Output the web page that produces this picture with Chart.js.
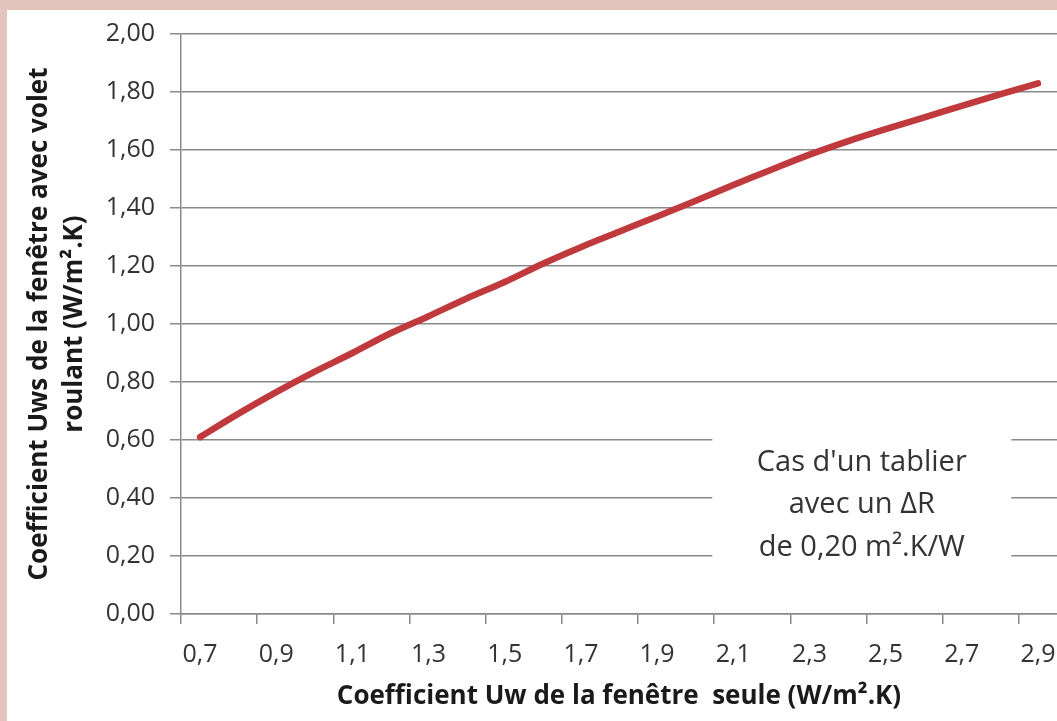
<!DOCTYPE html>
<html>
<head>
<meta charset="utf-8">
<script src="https://cdn.jsdelivr.net/npm/chart.js@4/dist/chart.umd.min.js"></script>
<style>
  html, body { margin: 0; padding: 0; background: #e2c5bd; }
  #cadre { position: absolute; left: 7px; top: 10px; width: 1050px; height: 711px; background: #ffffff; }
</style>
</head>
<body>
<div id="cadre"><canvas id="graphe"></canvas></div>
<script>
// Uw de la fenêtre seule (catégories) et Uws avec volet roulant
const categories = ['0,7', '0,8', '0,9', '1,0', '1,1', '1,2', '1,3', '1,4', '1,5', '1,6', '1,7', '1,8',
                    '1,9', '2,0', '2,1', '2,2', '2,3', '2,4', '2,5', '2,6', '2,7', '2,8', '2,9'];
const uwsValues = [0.61, 0.69, 0.765, 0.835, 0.90, 0.968, 1.027, 1.088, 1.145, 1.208, 1.265, 1.318,
                   1.371, 1.424, 1.479, 1.532, 1.584, 1.630, 1.672, 1.712, 1.752, 1.792, 1.83];
const yMin = 0;
const yMax = 2.0;
const yStep = 0.2;
const noteLines = ["Cas d'un tablier", "avec un \u0394R", "de 0,20 m\u00B2.K/W"];
const noteLineValues = [0.52, 0.376, 0.228];

const titreX = 'Coefficient Uw de la fenêtre  seule (W/m\u00B2.K)';
const titreY = ['Coefficient Uws de la fenêtre avec volet', 'roulant (W/m\u00B2.K)'];

const police = "'Open Sans', 'DejaVu Sans', sans-serif";
const gris = '#8a8a8a';

// Cadre blanc avec le texte de l'encadré
const encadre = {
  id: 'encadre',
  beforeDatasetsDraw(chart) {
    const ctx = chart.ctx;
    const x = chart.scales.x;
    const y = chart.scales.y;
    const gauche = x.getPixelForValue(13.45);
    const droite = x.getPixelForValue(21.3);
    const haut = y.getPixelForValue(0.68);
    const bas = y.getPixelForValue(0.1);
    ctx.save();
    ctx.fillStyle = '#ffffff';
    ctx.fillRect(gauche, haut, droite - gauche, bas - haut);
    ctx.fillStyle = '#333333';
    ctx.font = "29px " + police;
    ctx.textAlign = 'center';
    ctx.textBaseline = 'middle';
    const cx = (gauche + droite) / 2;
    noteLines.forEach(function (ligne, i) {
      ctx.fillText(ligne, cx, y.getPixelForValue(noteLineValues[i]));
    });
    ctx.restore();
  }
};

new Chart(document.getElementById('graphe'), {
  type: 'line',
  data: {
    labels: categories,
    datasets: [{
      data: uwsValues,
      borderColor: '#c0393c',
      borderWidth: 6.5,
      borderCapStyle: 'round',
      pointRadius: 0,
      tension: 0.3,
      fill: false
    }]
  },
  options: {
    responsive: true,
    maintainAspectRatio: false,
    animation: false,
    layout: { padding: { top: 24, right: 0, left: 0, bottom: 0 } },
    plugins: {
      legend: { display: false },
      tooltip: { enabled: false }
    },
    scales: {
      x: {
        type: 'category',
        offset: true,
        afterFit(scale) {
          scale.height = 107;
          scale.paddingLeft = 0;
          scale.paddingRight = 0;
        },
        grid: {
          offset: true,
          drawOnChartArea: false,
          drawTicks: true,
          tickLength: 10,
          lineWidth: 1.5,
          color: function (c) { return c.index % 2 === 0 ? gris : 'rgba(0,0,0,0)'; }
        },
        border: { color: gris, width: 1.5 },
        ticks: {
          autoSkip: false,
          maxRotation: 0,
          padding: 16,
          color: '#333333',
          font: { family: police, size: 25 },
          callback: function (val, i) { return i % 2 === 0 ? categories[i] : ''; }
        },
        title: {
          display: true,
          text: titreX,
          color: '#1a1a1a',
          font: { family: police, size: 26, weight: 'bold', lineHeight: 1.3 },
          padding: { top: 0, bottom: 8 }
        }
      },
      y: {
        min: yMin,
        max: yMax,
        afterFit(scale) {
          scale.width = 174;
          scale.paddingTop = 0;
          scale.paddingBottom = 0;
        },
        grid: {
          color: gris,
          lineWidth: 1.5,
          drawTicks: true,
          tickLength: 11
        },
        border: { color: gris, width: 1.5 },
        ticks: {
          stepSize: yStep,
          padding: 15,
          color: '#333333',
          font: { family: police, size: 25 },
          callback: function (v) { return v.toFixed(2).replace('.', ','); }
        },
        title: {
          display: true,
          text: titreY,
          color: '#1a1a1a',
          font: { family: police, size: 26, weight: 'bold', lineHeight: 1.35 },
          padding: { top: 15, bottom: 0 }
        }
      }
    }
  },
  plugins: [encadre]
});
</script>
</body>
</html>
